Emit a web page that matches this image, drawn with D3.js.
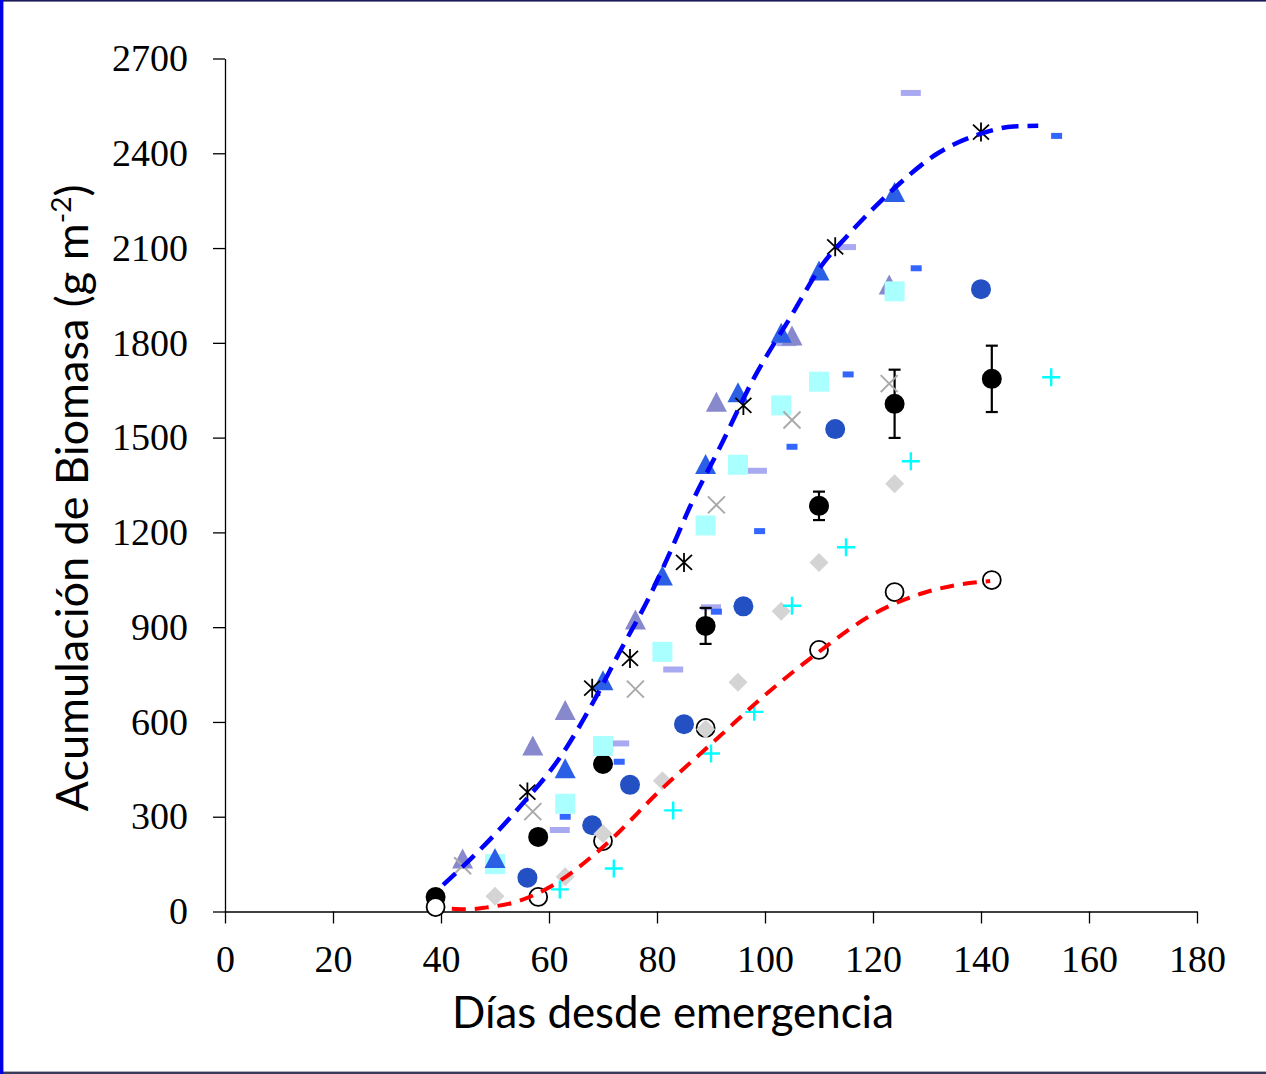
<!DOCTYPE html>
<html>
<head>
<meta charset="utf-8">
<script src="https://cdn.jsdelivr.net/npm/d3@7"></script>
<style>
  html, body { margin: 0; padding: 0; background: #fff; }
  svg { display: block; }
</style>
</head>
<body>
<svg id="chart" width="1266" height="1074"></svg>
<script>
// Axis ticks
const xTicks = [0, 20, 40, 60, 80, 100, 120, 140, 160, 180];
const yTicks = [0, 300, 600, 900, 1200, 1500, 1800, 2100, 2400, 2700];

// Mean biomass with standard error
const meanDays = [39, 58, 70, 89, 110, 124, 142];
const meanBiomass = [46, 236, 467, 904, 1284, 1607, 1686];
const meanError = [0, 0, 0, 57, 45, 108, 105];

// Individual treatments
const openDays = [39, 58, 70, 89, 110, 124, 142];
const openBiomass = [14, 46, 223, 581, 828, 1011, 1049];

const starDays = [56, 68, 75, 85, 96, 113, 140];
const starBiomass = [378, 707, 801, 1105, 1602, 2104, 2467];

const crossDays = [44, 57, 76, 91, 105, 123];
const crossBiomass = [145, 316, 704, 1287, 1556, 1671];

const diamondDays = [50, 63, 70, 81, 89, 95, 103, 110, 124];
const diamondBiomass = [48, 110, 246, 414, 577, 726, 950, 1105, 1354];

const plusDays = [62, 72, 83, 90, 98, 105, 115, 127, 153];
const plusBiomass = [70, 136, 320, 500, 632, 968, 1153, 1425, 1691];

const dotDays = [56, 68, 75, 85, 96, 113, 140];
const dotBiomass = [107, 273, 401, 593, 966, 1527, 1970];

const triDays = [50, 63, 70, 81, 89, 95, 103, 110, 124];
const triBiomass = [168, 452, 730, 1062, 1415, 1642, 1830, 2027, 2276];

const paleTriDays = [44, 57, 63, 76, 91, 105, 123];
const paleTriBiomass = [166, 524, 636, 923, 1612, 1822, 1983];

const squareDays = [50, 63, 70, 81, 89, 95, 103, 110, 124];
const squareBiomass = [150, 341, 524, 822, 1222, 1414, 1602, 1677, 1963];

const paleDashDays = [62, 73, 83, 90, 98.5, 104, 115, 127];
const paleDashBiomass = [258, 532, 766, 963, 1395, 1799, 2103, 2591];

const dashDays = [63, 73, 91, 99, 105, 115.4, 128, 154];
const dashBiomass = [300, 474, 949, 1204, 1471, 1700, 2036, 2455];

// Fitted curves (upper and lower envelope)
const upperFitDays = [40.4, 47.2, 54, 62.6, 68.1, 73.1, 78.7, 82.6, 86.1, 91.7, 98.1, 104.6, 110.8, 115.1, 124, 132, 140, 146, 150.6];
const upperFitBiomass = [84, 195, 320, 502, 660, 822, 1000, 1144, 1281, 1471, 1693, 1878, 2052, 2136, 2290, 2400, 2462, 2485, 2487];

const lowerFitDays = [42, 45, 48.5, 54, 60.8, 69.4, 81, 91.7, 99, 110, 119.4, 128.7, 135, 141.7];
const lowerFitBiomass = [9, 7, 13, 31, 84, 195, 390, 556, 670, 822, 935, 1005, 1032, 1046];

const svg = d3.select("#chart");
const W = 1266, H = 1074;

// Frame
svg.append("rect").attr("x", 0).attr("y", 0).attr("width", W).attr("height", H).attr("fill", "#fff");
svg.append("rect").attr("x", 0).attr("y", 0).attr("width", W).attr("height", 1.6).attr("fill", "#1c1c5c");
svg.append("rect").attr("x", 0).attr("y", H - 2.4).attr("width", W).attr("height", 2.4).attr("fill", "#3a3a5a");
svg.append("rect").attr("x", 0).attr("y", 0).attr("width", 3.4).attr("height", H).attr("fill", "#0000e6");

const x = d3.scaleLinear().domain([0, 180]).range([225, 1197]);
const y = d3.scaleLinear().domain([0, 2700]).range([911.5, 58.5]);

const tickFont = "'Liberation Serif', 'DejaVu Serif', serif";

// Axes
const gx = svg.append("g").attr("transform", `translate(0,${y(0)})`)
  .call(d3.axisBottom(x).tickValues(xTicks).tickFormat(d3.format("d"))
    .tickSize(12).tickSizeOuter(0).tickPadding(22));
const gy = svg.append("g").attr("transform", `translate(${x(0)},0)`)
  .call(d3.axisLeft(y).tickValues(yTicks).tickFormat(d3.format("d"))
    .tickSize(12).tickSizeOuter(0).tickPadding(25));
[gx, gy].forEach(g => {
  g.select(".domain").attr("stroke", "#000").attr("stroke-width", 1.3);
  g.selectAll(".tick line").attr("stroke", "#000").attr("stroke-width", 1.3);
  g.selectAll(".tick text").attr("fill", "#000")
    .style("font-family", tickFont).style("font-size", "38px");
});

// Axis titles
const titleFont = "Lato, 'Open Sans', 'Noto Sans', sans-serif";
function fitWidth(sel, target) {
  const node = sel.node();
  const base = parseFloat(sel.style("font-size"));
  const w = node.getComputedTextLength();
  sel.style("font-size", (base * target / w) + "px");
}
const xTitle = svg.append("text")
  .attr("x", 673).attr("y", 1028)
  .attr("text-anchor", "middle")
  .style("font-family", titleFont).style("font-size", "40px").attr("fill", "#000")
  .text("Días desde emergencia");
fitWidth(xTitle, 442);

const yTitle = svg.append("text")
  .attr("transform", "translate(88,498) rotate(-90)")
  .attr("text-anchor", "middle")
  .style("font-family", titleFont).style("font-size", "40px").attr("fill", "#000");
yTitle.append("tspan").text("Acumulación de Biomasa (g m");
yTitle.append("tspan").attr("baseline-shift", "super").style("font-size", "62%").text("-2");
yTitle.append("tspan").text(")");
fitWidth(yTitle, 627);

// Marker helpers
const plot = svg.append("g");
function zip(ds, vs) { return ds.map((d, i) => ({ d, v: vs[i], i })); }

function drawPaths(data, pathStr, attrs) {
  const sel = plot.append("g").selectAll("path").data(data).join("path")
    .attr("transform", p => `translate(${x(p.d)},${y(p.v)})`)
    .attr("d", pathStr);
  Object.entries(attrs).forEach(([k, v]) => sel.attr(k, v));
  return sel;
}

// Dash markers
drawPaths(zip(paleDashDays, paleDashBiomass), "M-10,-3H10V3H-10Z", { fill: "#a9a9f2" });
drawPaths(zip(dashDays, dashBiomass), "M-5.5,-3H5.5V3H-5.5Z", { fill: "#3366ff" });

// Mean with error bars
const meanData = zip(meanDays, meanBiomass);
const eb = plot.append("g").selectAll("g").data(meanData.filter(p => meanError[p.i] > 0)).join("g")
  .attr("stroke", "#000").attr("stroke-width", 2.2);
eb.append("line").attr("x1", p => x(p.d)).attr("x2", p => x(p.d))
  .attr("y1", p => y(p.v - meanError[p.i])).attr("y2", p => y(p.v + meanError[p.i]));
eb.append("line").attr("x1", p => x(p.d) - 6).attr("x2", p => x(p.d) + 6)
  .attr("y1", p => y(p.v + meanError[p.i])).attr("y2", p => y(p.v + meanError[p.i]));
eb.append("line").attr("x1", p => x(p.d) - 6).attr("x2", p => x(p.d) + 6)
  .attr("y1", p => y(p.v - meanError[p.i])).attr("y2", p => y(p.v - meanError[p.i]));
plot.append("g").selectAll("circle").data(meanData).join("circle")
  .attr("cx", p => x(p.d)).attr("cy", p => y(p.v)).attr("r", 10).attr("fill", "#000");

// Open circles
plot.append("g").selectAll("circle").data(zip(openDays, openBiomass)).join("circle")
  .attr("cx", p => x(p.d)).attr("cy", p => y(p.v)).attr("r", 9)
  .attr("fill", "#fff").attr("stroke", "#000").attr("stroke-width", 1.8);

// Blue dots
plot.append("g").selectAll("circle").data(zip(dotDays, dotBiomass)).join("circle")
  .attr("cx", p => x(p.d)).attr("cy", p => y(p.v)).attr("r", 10).attr("fill", "#2350c2");

const triPath = "M0,-10.5L10.5,9.5H-10.5Z";
drawPaths(zip(paleTriDays, paleTriBiomass), triPath, { fill: "#8888cc" });
drawPaths(zip(squareDays, squareBiomass), "M-10,-10H10V10H-10Z", { fill: "#aaffff" });
drawPaths(zip(triDays, triBiomass), triPath, { fill: "#2a5fe6" });
drawPaths(zip(diamondDays, diamondBiomass), "M0,-9.5L9.5,0L0,9.5L-9.5,0Z", { fill: "#d4d4d4" });
drawPaths(zip(crossDays, crossBiomass), "M-8.5,-8.5L8.5,8.5M-8.5,8.5L8.5,-8.5",
  { fill: "none", stroke: "#aaaaaa", "stroke-width": 2 });
drawPaths(zip(plusDays, plusBiomass), "M-9,0H9M0,-9V9",
  { fill: "none", stroke: "#00ffff", "stroke-width": 2.4 });
drawPaths(zip(starDays, starBiomass), "M0,-9.5V9.5M-8,-7.5L8,7.5M-8,7.5L8,-7.5",
  { fill: "none", stroke: "#000", "stroke-width": 1.8 });

// Fitted curves
const line = d3.line().x(p => x(p.d)).y(p => y(p.v)).curve(d3.curveMonotoneX);
plot.append("path").datum(zip(upperFitDays, upperFitBiomass)).attr("d", line)
  .attr("fill", "none").attr("stroke", "#0000ff").attr("stroke-width", 4.5)
  .attr("stroke-dasharray", "17,9");
plot.append("path").datum(zip(lowerFitDays, lowerFitBiomass)).attr("d", line)
  .attr("fill", "none").attr("stroke", "#ff0000").attr("stroke-width", 4)
  .attr("stroke-dasharray", "14,9");
</script>
</body>
</html>
